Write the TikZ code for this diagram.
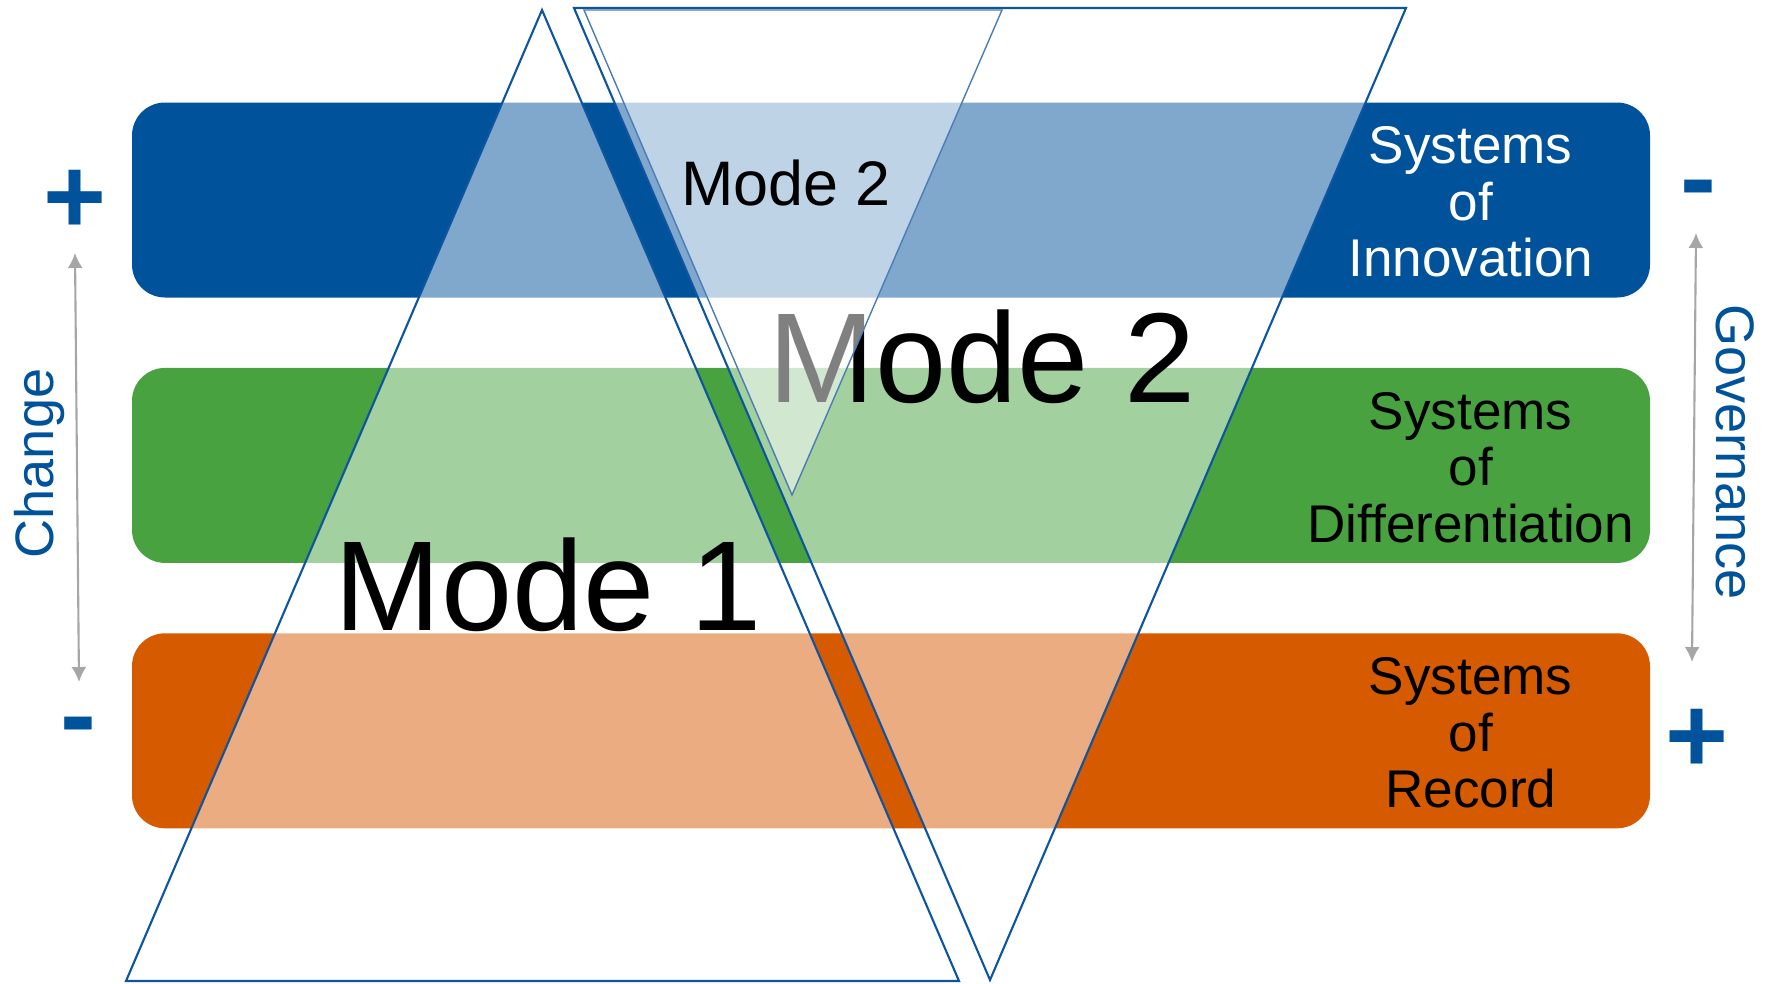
\documentclass[tikz,border=0pt]{standalone}
\usepackage{fontspec}
\setmainfont{Liberation Sans}
\usetikzlibrary{positioning,arrows.meta}
\definecolor{innoblue}{HTML}{00529B}
\definecolor{diffgreen}{HTML}{48A23F}
\definecolor{recorange}{HTML}{D55A00}
\definecolor{edgeblue}{HTML}{0D55A1}
\definecolor{thinblue}{HTML}{4A7DB6}
\definecolor{axisgray}{HTML}{A6A6A6}
\tikzset{
    BAR/.style ={rectangle, rounded corners=0.33cm, minimum width=15.18cm, minimum height=1.95cm, inner sep=0pt},
    TRI/.style ={draw=edgeblue, line width=0.6pt, fill=white, fill opacity=0.5},
    SYS/.style ={align=center, inner sep=0pt, font=\fontsize{15.1pt}{16.1pt}\selectfont},
    MODE/.style ={inner sep=0pt, anchor=base, font=\fontsize{36.4pt}{40pt}\selectfont},
    SIGN/.style ={inner sep=0pt, anchor=base, text=innoblue, font=\bfseries\fontsize{30.7pt}{32pt}\selectfont},
    AXIS/.style ={draw=axisgray, line width=0.6pt, {Latex[length=1.5mm,width=1.5mm]}-{Latex[length=1.5mm,width=1.5mm]}},
    AXLAB/.style ={inner sep=0pt, anchor=base, text=innoblue, font=\fontsize{15.4pt}{17pt}\selectfont}
}

\begin{document}
\begin{tikzpicture}
    \useasboundingbox (0,0) rectangle (17.75,9.83);
    % the three layers
    \node[BAR, fill=innoblue] (inno) at (8.91,7.83) {};
    \node[BAR, fill=diffgreen, below=0.69cm of inno] (diff) {};
    \node[BAR, fill=recorange, below=0.69cm of diff] (rec) {};

    % mode 1 and mode 2 triangles
    \draw[TRI] (1.26,0.02)--(5.42,9.73)--(9.59,0.02)--cycle;
    \draw[TRI] (5.74,9.75)--(14.06,9.75)--(9.90,0.03)--cycle;
    \node[MODE] (modeA) at (5.48,3.53) {Mode 1};
    \node[MODE] (modeB) at (9.82,5.81) {Mode 2};
    \draw[TRI, draw=thinblue, line width=0.4pt] (5.84,9.73)--(10.02,9.73)--(7.92,4.88)--cycle;
    \node[MODE, font=\fontsize{17.9pt}{20pt}\selectfont] (modeC) at (7.86,7.78) {Mode 2};

    % layer names
    \node[SYS, text=white] (innoT) at ([xshift=-1.80cm,yshift=-0.02cm]inno.east) {Systems\\of\\Innovation};
    \node[SYS] (diffT) at ([xshift=-1.80cm,yshift=-0.02cm]diff.east) {Systems\\of\\Differentiation};
    \node[SYS] (recT) at ([xshift=-1.80cm,yshift=-0.02cm]rec.east) {Systems\\of\\Record};

    % change axis
    \node[SIGN] (chgP) at (0.75,7.50) {+};
    \node[SIGN] (chgM) at (0.78,2.32) {-};
    \coordinate (chgTop) at (0.75,7.30);
    \coordinate (chgBot) at (0.79,3.01);
    \draw[AXIS] (chgTop)--(chgBot);
    \node[AXLAB, rotate=90] (chg) at (0.53,5.195) {Change};

    % governance axis
    \node[SIGN] (govM) at (16.98,7.685) {-};
    \node[SIGN] (govP) at (16.97,2.105) {+};
    \coordinate (govTop) at (16.96,7.50);
    \coordinate (govBot) at (16.92,3.21);
    \draw[AXIS] (govTop)--(govBot);
    \node[AXLAB, rotate=-90] (gov) at (17.16,5.31) {Governance};
\end{tikzpicture}
\end{document}
